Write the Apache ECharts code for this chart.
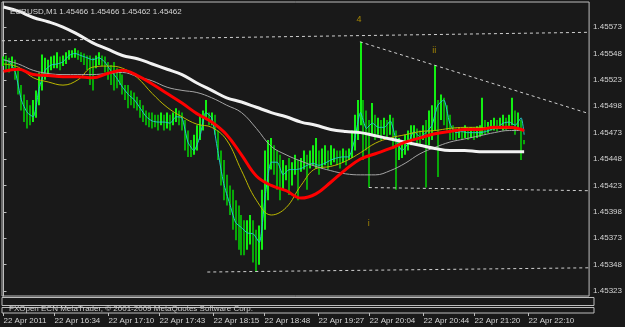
<!DOCTYPE html>
<html><head><meta charset="utf-8">
<script src="https://cdn.jsdelivr.net/npm/echarts@6/dist/echarts.min.js"></script>
<style>html,body{margin:0;padding:0;background:#191919;}#c{width:625px;height:327px;}</style>
</head><body><div id="c"></div>
<script>
const symbolTitle = 'EURUSD,M1 1.45466 1.45466 1.45462 1.45462';
const copyright = 'FXOpen ECN MetaTrader, \u00a9 2001-2009 MetaQuotes Software Corp.';
const timeLabelIdx = [0,17,35,52,70,87,105,122,140,157,175];
const timeLabels = ['22 Apr 2011','22 Apr 16:34','22 Apr 17:10','22 Apr 17:43','22 Apr 18:15','22 Apr 18:48','22 Apr 19:27','22 Apr 20:04','22 Apr 20:44','22 Apr 21:20','22 Apr 22:10'];
const priceTicks = [1.45573,1.45548,1.45523,1.45498,1.45473,1.45448,1.45423,1.45398,1.45373,1.45348,1.45323];
const lastPrice = 1.45462;

const barHigh = [1.45545,1.45546,1.45544,1.45545,1.45542,1.45532,1.45518,1.45509,1.45504,1.45499,
 1.45504,1.45513,1.45530,1.45547,1.45544,1.45542,1.45545,1.45546,1.45549,1.45545,
 1.45546,1.45549,1.45551,1.45551,1.45553,1.45551,1.45549,1.45548,1.45546,1.45546,
 1.45544,1.45546,1.45549,1.45546,1.45545,1.45540,1.45537,1.45540,1.45534,1.45530,
 1.45528,1.45518,1.45518,1.45513,1.45511,1.45507,1.45504,1.45499,1.45494,1.45492,
 1.45492,1.45490,1.45490,1.45492,1.45490,1.45492,1.45490,1.45492,1.45496,1.45494,
 1.45492,1.45485,1.45475,1.45466,1.45471,1.45480,1.45490,1.45494,1.45504,1.45492,
 1.45492,1.45490,1.45475,1.45456,1.45447,1.45433,1.45423,1.45419,1.45409,1.45404,
 1.45395,1.45390,1.45390,1.45395,1.45390,1.45381,1.45385,1.45419,1.45456,1.45466,
 1.45468,1.45461,1.45456,1.45452,1.45447,1.45442,1.45449,1.45445,1.45452,1.45447,
 1.45449,1.45456,1.45452,1.45456,1.45461,1.45468,1.45456,1.45458,1.45461,1.45456,
 1.45461,1.45458,1.45456,1.45456,1.45458,1.45456,1.45458,1.45475,1.45490,1.45504,
 1.45559,1.45504,1.45494,1.45485,1.45501,1.45490,1.45487,1.45485,1.45487,1.45485,
 1.45490,1.45487,1.45475,1.45468,1.45466,1.45471,1.45475,1.45480,1.45480,1.45477,
 1.45475,1.45480,1.45485,1.45494,1.45499,1.45537,1.45504,1.45509,1.45506,1.45499,
 1.45490,1.45480,1.45477,1.45478,1.45477,1.45480,1.45477,1.45478,1.45477,1.45479,
 1.45480,1.45506,1.45485,1.45483,1.45485,1.45487,1.45485,1.45487,1.45490,1.45487,
 1.45490,1.45506,1.45494,1.45492,1.45485,1.45466];
const barLow = [1.45536,1.45532,1.45530,1.45534,1.45523,1.45509,1.45494,1.45483,1.45477,1.45480,
 1.45483,1.45487,1.45499,1.45513,1.45523,1.45528,1.45532,1.45534,1.45534,1.45532,
 1.45536,1.45538,1.45542,1.45544,1.45544,1.45542,1.45540,1.45537,1.45532,1.45518,
 1.45513,1.45534,1.45537,1.45536,1.45530,1.45523,1.45518,1.45513,1.45515,1.45518,
 1.45509,1.45504,1.45496,1.45499,1.45496,1.45494,1.45487,1.45483,1.45480,1.45478,
 1.45477,1.45478,1.45475,1.45480,1.45475,1.45477,1.45475,1.45480,1.45483,1.45480,
 1.45475,1.45456,1.45450,1.45450,1.45452,1.45456,1.45466,1.45475,1.45485,1.45480,
 1.45480,1.45471,1.45447,1.45423,1.45409,1.45404,1.45395,1.45381,1.45371,1.45362,
 1.45357,1.45357,1.45362,1.45367,1.45350,1.45341,1.45348,1.45362,1.45381,1.45409,
 1.45438,1.45433,1.45419,1.45409,1.45419,1.45428,1.45414,1.45423,1.45433,1.45409,
 1.45436,1.45438,1.45419,1.45439,1.45442,1.45439,1.45433,1.45439,1.45442,1.45438,
 1.45442,1.45445,1.45442,1.45439,1.45445,1.45442,1.45447,1.45449,1.45456,1.45466,
 1.45480,1.45447,1.45456,1.45421,1.45471,1.45466,1.45471,1.45466,1.45471,1.45468,
 1.45471,1.45458,1.45419,1.45447,1.45449,1.45452,1.45456,1.45461,1.45466,1.45461,
 1.45461,1.45466,1.45421,1.45461,1.45466,1.45475,1.45431,1.45485,1.45480,1.45475,
 1.45466,1.45466,1.45466,1.45468,1.45466,1.45468,1.45466,1.45468,1.45466,1.45468,
 1.45469,1.45471,1.45471,1.45473,1.45475,1.45475,1.45474,1.45477,1.45475,1.45475,
 1.45477,1.45480,1.45471,1.45475,1.45447,1.45462];

const maIdx = [0,5,10,15,20,25,30,35,40,45,50,55,60,65,70,75,80,85,90,95,100,105,110,115,120,125,130,135,140,145,150,155,160,165,170,175];
const whiteMA = [1.45592,1.45588,1.45582,1.45578,1.45573,1.45566,1.45558,1.45552,1.45546,1.45543,1.45538,1.45533,1.45528,1.45520,1.45513,1.45506,1.45502,1.45497,1.45492,1.45488,1.45483,1.45480,1.45476,1.45474,1.45473,1.45470,1.45467,1.45464,1.45461,1.45458,1.45456,1.45456,1.45455,1.45455,1.45455,1.45455];
const grayMA = [1.45542,1.45538,1.45532,1.45529,1.45528,1.45528,1.45528,1.45529,1.45530,1.45526,1.45522,1.45516,1.45513,1.45511,1.45506,1.45499,1.45492,1.45477,1.45460,1.45452,1.45446,1.45441,1.45437,1.45434,1.45433,1.45433,1.45437,1.45444,1.45453,1.45459,1.45464,1.45467,1.45470,1.45473,1.45475,1.45475];
const redMA = [1.45531,1.45533,1.45528,1.45527,1.45526,1.45526,1.45525,1.45529,1.45532,1.45527,1.45519,1.45510,1.45501,1.45491,1.45483,1.45471,1.45452,1.45432,1.45423,1.45418,1.45411,1.45415,1.45426,1.45438,1.45448,1.45453,1.45458,1.45464,1.45468,1.45472,1.45474,1.45476,1.45476,1.45478,1.45478,1.45475];
const yellowMA = [1.45538,1.45535,1.45525,1.45521,1.45518,1.45523,1.45535,1.45536,1.45534,1.45525,1.45510,1.45497,1.45488,1.45481,1.45478,1.45466,1.45437,1.45409,1.45395,1.45402,1.45423,1.45439,1.45441,1.45446,1.45454,1.45463,1.45468,1.45471,1.45474,1.45475,1.45477,1.45478,1.45478,1.45477,1.45477,1.45475];

const cyanIdx = [0,2,4,6,8,10,12,14,16,18,20,22,24,26,28,30,32,34,36,38,40,42,44,46,48,50,52,54,56,58,60,62,64,66,68,70,72,74,76,78,80,82,84,86,88,90,92,94,96,98,100,102,104,106,108,110,112,114,116,118,120,122,124,126,128,130,132,134,136,138,140,142,144,146,148,150,152,154,156,158,160,162,164,166,168,170,172,174,175];
const cyanMA = [1.45542,1.45540,1.45530,1.45504,1.45492,1.45488,1.45515,1.45532,1.45537,1.45538,
 1.45540,1.45546,1.45548,1.45546,1.45544,1.45542,1.45544,1.45540,1.45532,1.45525,
 1.45516,1.45509,1.45504,1.45496,1.45488,1.45484,1.45483,1.45483,1.45482,1.45488,
 1.45487,1.45464,1.45456,1.45469,1.45492,1.45487,1.45456,1.45425,1.45406,1.45388,
 1.45383,1.45378,1.45377,1.45369,1.45414,1.45445,1.45445,1.45433,1.45438,1.45438,
 1.45439,1.45442,1.45444,1.45442,1.45444,1.45447,1.45449,1.45450,1.45450,1.45466,
 1.45492,1.45477,1.45482,1.45478,1.45478,1.45484,1.45466,1.45456,1.45463,1.45474,
 1.45469,1.45473,1.45480,1.45499,1.45504,1.45482,1.45473,1.45474,1.45473,1.45473,
 1.45473,1.45474,1.45476,1.45478,1.45482,1.45483,1.45480,1.45487,1.45471];

// trend lines: [startIndex, startPrice, endIndex, endPrice]
const trendStartIdx = [-0.5, 119.8, 122.8, 68.5];
const trendStartPrice = [1.45560, 1.45559, 1.45421, 1.45341];
const trendEndIdx = [196.8, 196.8, 196.8, 196.8];
const trendEndPrice = [1.45568, 1.45491, 1.45418, 1.45345];

const waveLabels = ['4','ii','i'];
const waveIdx = [119.5, 144.8, 122.8];
const wavePrice = [1.45580, 1.45551, 1.45387];

const X_MIN = -0.5, X_MAX = 196.83;
const Y_MIN = 1.453183, Y_MAX = 1.455967;
const FONT = 'Liberation Sans';
const frameCol = '#bdbdbd';
const txtCol = '#d4d4d4';

const barData = barHigh.map((h, i) => {
  const m = (h + barLow[i]) / 2;
  const pm = i ? (barHigh[i-1] + barLow[i-1]) / 2 : m;
  return [i, h, barLow[i], m >= pm ? 1 : 0];
});
const pairs = (idx, vals) => idx.map((x, k) => [x, vals[k]]);

const maSeries = (name, vals, color, width, smooth, idx) => ({
  name, type: 'line', xAxisIndex: 0, yAxisIndex: 0,
  data: pairs(idx || maIdx, vals), showSymbol: false, smooth: smooth,
  lineStyle: { color, width }, silent: true, z: 3
});

const chart = echarts.init(document.getElementById('c'), null, { renderer: 'canvas' });
chart.setOption({
  backgroundColor: '#191919',
  animation: false,
  textStyle: { fontFamily: FONT },
  title: [
    { text: symbolTitle, left: 5, top: 3, textStyle: { color: txtCol, fontSize: 8, fontWeight: 'normal', fontFamily: FONT } },
    { text: copyright, left: 4, top: 300, textStyle: { color: '#cfcfcf', fontSize: 8, fontWeight: 'normal', fontFamily: FONT } }
  ],
  grid: [
    { left: 2, right: 31, top: 2, height: 294, show: true, borderColor: frameCol, borderWidth: 1, backgroundColor: 'transparent' },
    { left: 2, right: 31, top: 297.5, height: 8, show: true, borderColor: frameCol, borderWidth: 1 },
    { left: 2, right: 31, top: 307.5, height: 5.5, show: true, borderColor: frameCol, borderWidth: 1 }
  ],
  xAxis: [
    { type: 'value', gridIndex: 0, min: X_MIN, max: X_MAX, show: false },
    { type: 'value', gridIndex: 1, min: X_MIN, max: X_MAX, show: false },
    { type: 'value', gridIndex: 2, min: X_MIN, max: X_MAX,
      axisLine: { show: false }, splitLine: { show: false },
      axisTick: { show: true, customValues: timeLabelIdx, length: 3, lineStyle: { color: frameCol } },
      axisLabel: { customValues: timeLabelIdx, formatter: v => timeLabels[timeLabelIdx.indexOf(v)], align: 'left',
        color: txtCol, fontSize: 8, margin: 4, fontFamily: FONT } }
  ],
  yAxis: [
    { type: 'value', gridIndex: 0, position: 'right', min: Y_MIN, max: Y_MAX, scale: true,
      splitLine: { show: false },
      axisLine: { show: true, lineStyle: { color: frameCol } },
      axisTick: { show: true, customValues: priceTicks, length: 3, lineStyle: { color: frameCol } },
      axisLabel: { customValues: priceTicks, formatter: v => v.toFixed(5), color: txtCol, fontSize: 8, margin: 4, fontFamily: FONT } },
    { type: 'value', gridIndex: 1, min: 0, max: 1, show: false },
    { type: 'value', gridIndex: 2, min: 0, max: 1, show: false }
  ],
  series: [
    { name: 'bars', type: 'custom', xAxisIndex: 0, yAxisIndex: 0, data: barData, clip: true, z: 2,
      encode: { x: 0, y: [1, 2] },
      renderItem: (params, api) => {
        const i = api.value(0);
        const a = api.coord([i, api.value(1)]);
        const b = api.coord([i, api.value(2)]);
        const x = Math.round(a[0]);
        return { type: 'line', shape: { x1: x, y1: a[1], x2: x, y2: b[1] },
          style: { stroke: api.value(3) ? '#12f012' : '#08a808', lineWidth: 2 } };
      }
    },
    maSeries('cyan', cyanMA, '#22c8c8', 1, 0.2, cyanIdx),
    maSeries('yellow', yellowMA, '#bcb800', 1, 0.4),
    maSeries('gray', grayMA, '#a4a4a4', 1, 0.4),
    maSeries('white', whiteMA, '#f2f2f2', 3, 0.4),
    Object.assign(maSeries('red', redMA, '#ff0000', 3, 0.4), {
      markLine: {
        silent: true, symbol: ['none', 'none'], animation: false,
        data: [
          { yAxis: lastPrice, lineStyle: { color: '#7c7c7c', type: [1, 2], width: 1 },
            label: { show: true, position: 'end', formatter: lastPrice.toFixed(5), color: '#000', backgroundColor: '#f4f4f4',
              fontSize: 8, padding: [1, 2, 0, 2], distance: 3, fontFamily: FONT } }
        ].concat(trendStartIdx.map((s, k) => [
          { coord: [s, trendStartPrice[k]], lineStyle: { color: '#cfcfcf', type: [3, 3], width: 1 }, label: { show: false } },
          { coord: [trendEndIdx[k], trendEndPrice[k]] }
        ]))
      }
    }),
    { name: 'waves', type: 'scatter', xAxisIndex: 0, yAxisIndex: 0, symbolSize: 1, z: 5,
      itemStyle: { color: 'rgba(0,0,0,0)' },
      data: waveIdx.map((x, k) => [x, wavePrice[k], waveLabels[k]]),
      label: { show: true, position: 'inside', formatter: p => p.data[2], color: '#c8a200', fontSize: 9, fontFamily: FONT } }
  ]
});
</script></body></html>
